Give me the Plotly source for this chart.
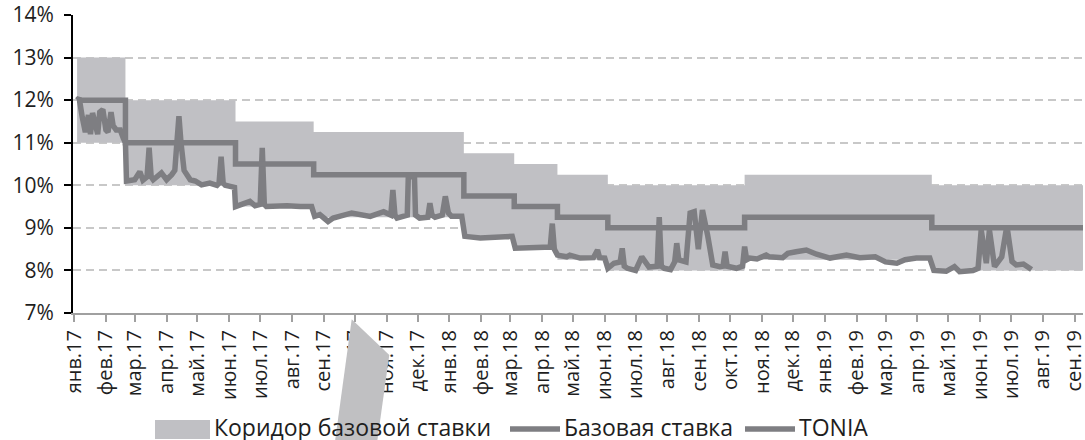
import plotly.graph_objects as go

# ---------------- data ----------------
rate_dates = ["2017-01-04", "2017-02-20", "2017-06-07", "2017-08-22", "2018-01-15",
              "2018-03-05", "2018-04-16", "2018-06-04", "2018-10-15", "2019-04-15",
              "2019-09-09"]
base_rate = [12.0, 11.0, 10.5, 10.25, 9.75, 9.5, 9.25, 9.0, 9.25, 9.0, 9.0]
corridor_low = [11.0, 10.0, 9.5, 9.25, 8.75, 8.5, 8.25, 8.0, 8.25, 8.0, 8.0]
corridor_high = [13.0, 12.0, 11.5, 11.25, 10.75, 10.5, 10.25, 10.0, 10.25, 10.0, 10.0]

tonia_dates = [
    "2017-01-04", "2017-01-06", "2017-01-09", "2017-01-12", "2017-01-15", "2017-01-17",
    "2017-01-19", "2017-01-22", "2017-01-24", "2017-01-26", "2017-01-29", "2017-02-01",
    "2017-02-03", "2017-02-06", "2017-02-08", "2017-02-11", "2017-02-15", "2017-02-18",
    "2017-02-20", "2017-02-21", "2017-03-01", "2017-03-06", "2017-03-09", "2017-03-13",
    "2017-03-15", "2017-03-17", "2017-03-19", "2017-03-27", "2017-04-01", "2017-04-06",
    "2017-04-09", "2017-04-11", "2017-04-13", "2017-04-15", "2017-04-18", "2017-04-24",
    "2017-04-29", "2017-05-05", "2017-05-13", "2017-05-20", "2017-05-22", "2017-05-24",
    "2017-05-26", "2017-05-28", "2017-06-03", "2017-06-06", "2017-06-07", "2017-06-21",
    "2017-06-26", "2017-07-01", "2017-07-03", "2017-07-05", "2017-07-07", "2017-07-27",
    "2017-08-09", "2017-08-20", "2017-08-23", "2017-08-28", "2017-09-05", "2017-09-10",
    "2017-09-28", "2017-10-16", "2017-10-29", "2017-11-05", "2017-11-07", "2017-11-09",
    "2017-11-11", "2017-11-21", "2017-11-22", "2017-11-28", "2017-11-29", "2017-12-03",
    "2017-12-11", "2017-12-13", "2017-12-15", "2017-12-18", "2017-12-25", "2017-12-28",
    "2017-12-31", "2018-01-03", "2018-01-13", "2018-01-16", "2018-01-31", "2018-02-14",
    "2018-03-03", "2018-03-06", "2018-03-30", "2018-04-09", "2018-04-11", "2018-04-13",
    "2018-04-16", "2018-04-25", "2018-04-28", "2018-05-08", "2018-05-21", "2018-05-25",
    "2018-05-27", "2018-06-01", "2018-06-04", "2018-06-10", "2018-06-16", "2018-06-18",
    "2018-06-20", "2018-06-23", "2018-07-01", "2018-07-07", "2018-07-14", "2018-07-22",
    "2018-07-24", "2018-07-26", "2018-07-29", "2018-08-04", "2018-08-08", "2018-08-10",
    "2018-08-12", "2018-08-19", "2018-08-23", "2018-08-27", "2018-08-31", "2018-09-04",
    "2018-09-09", "2018-09-14", "2018-09-21", "2018-09-24", "2018-09-26", "2018-09-28",
    "2018-10-07", "2018-10-13", "2018-10-15", "2018-10-17", "2018-10-20", "2018-10-27",
    "2018-11-05", "2018-11-08", "2018-11-21", "2018-11-26", "2018-12-04", "2018-12-14",
    "2018-12-24", "2019-01-06", "2019-01-22", "2019-02-04", "2019-02-19", "2019-03-01",
    "2019-03-12", "2019-03-20", "2019-03-31", "2019-04-13", "2019-04-17", "2019-04-23",
    "2019-04-29", "2019-05-07", "2019-05-12", "2019-05-25", "2019-05-30", "2019-06-02",
    "2019-06-07", "2019-06-10", "2019-06-15", "2019-06-22", "2019-06-27", "2019-07-02",
    "2019-07-06", "2019-07-13", "2019-07-21",
]
tonia_values = [
    12.0, 12.05, 11.6, 11.25, 11.65, 11.2,
    11.7, 11.45, 11.2, 11.72, 11.78, 11.3,
    11.25, 11.72, 11.4, 11.3, 11.3, 11.1,
    11.0, 10.1, 10.13, 10.32, 10.12, 10.2,
    10.88, 10.2, 10.13, 10.29, 10.13, 10.25,
    10.35, 11.0, 11.62, 11.0, 10.35, 10.13,
    10.1, 10.01, 10.05, 10.0, 10.05, 10.67,
    10.05, 10.0, 9.97, 9.95, 9.5, 9.62,
    9.52, 9.55, 10.88, 9.55, 9.5, 9.52,
    9.5, 9.5, 9.27, 9.31, 9.15, 9.23,
    9.35, 9.27, 9.38, 9.3, 9.89, 9.3,
    9.23, 9.3, 10.2, 10.2, 9.3, 9.23,
    9.25, 9.58, 9.3, 9.25, 9.3, 9.74,
    9.35, 9.27, 9.27, 8.8, 8.76, 8.78,
    8.8, 8.52, 8.55, 8.55, 9.1, 8.5,
    8.36, 8.32, 8.36, 8.29, 8.3, 8.48,
    8.3, 8.29, 8.05, 8.17, 8.2, 8.52,
    8.1, 8.05, 8.0, 8.32, 8.08, 8.1,
    9.25, 8.1, 8.05, 8.02, 8.2, 8.64,
    8.25, 8.2, 9.35, 9.38, 8.5, 9.42,
    8.83, 8.13, 8.09, 8.1, 8.44, 8.1,
    8.05, 8.1, 8.56, 8.25, 8.29, 8.27,
    8.36, 8.32, 8.3, 8.4, 8.44, 8.48,
    8.38, 8.29, 8.36, 8.3, 8.32, 8.2,
    8.17, 8.25, 8.29, 8.29, 8.0, 8.0,
    7.98, 8.09, 7.97, 8.0, 8.05, 8.95,
    8.17, 8.95, 8.09, 8.32, 9.05, 8.21,
    8.13, 8.15, 8.02,
]

tick_dates = [
    "2017-01-01", "2017-02-01", "2017-03-01", "2017-04-01", "2017-05-01", "2017-06-01",
    "2017-07-01", "2017-08-01", "2017-09-01", "2017-10-01", "2017-11-01", "2017-12-01",
    "2018-01-01", "2018-02-01", "2018-03-01", "2018-04-01", "2018-05-01", "2018-06-01",
    "2018-07-01", "2018-08-01", "2018-09-01", "2018-10-01", "2018-11-01", "2018-12-01",
    "2019-01-01", "2019-02-01", "2019-03-01", "2019-04-01", "2019-05-01", "2019-06-01",
    "2019-07-01", "2019-08-01", "2019-09-01",
]
tick_labels = [
    "янв.17", "фев.17", "мар.17", "апр.17", "май.17", "июн.17", "июл.17", "авг.17",
    "сен.17", "окт.17", "ноя.17", "дек.17", "янв.18", "фев.18", "мар.18", "апр.18",
    "май.18", "июн.18", "июл.18", "авг.18", "сен.18", "окт.18", "ноя.18", "дек.18",
    "янв.19", "фев.19", "мар.19", "апр.19", "май.19", "июн.19", "июл.19", "авг.19",
    "сен.19",
]
y_ticks = [7, 8, 9, 10, 11, 12, 13, 14]
y_labels = ["7%", "8%", "9%", "10%", "11%", "12%", "13%", "14%"]

legend_names = ["Коридор базовой ставки", "Базовая ставка", "TONIA"]

# ---------------- style ----------------
FILL = "rgb(192,192,196)"
LINE = "rgb(126,126,130)"
TEXT = "#1e1e1e"
FONT = "Open Sans"
LW = 5.5

fig = go.Figure()
fig.add_trace(go.Scatter(x=rate_dates, y=corridor_low, mode="lines", line_shape="hv",
                         line=dict(width=0, color=FILL), showlegend=False, hoverinfo="skip"))
fig.add_trace(go.Scatter(x=rate_dates, y=corridor_high, mode="lines", line_shape="hv",
                         line=dict(width=0, color=FILL), fill="tonexty", fillcolor=FILL,
                         name=legend_names[0], showlegend=False))
fig.add_trace(go.Scatter(x=tonia_dates, y=tonia_values, mode="lines",
                         line=dict(width=LW, color=LINE), name=legend_names[2],
                         showlegend=False))
fig.add_trace(go.Scatter(x=rate_dates, y=base_rate, mode="lines", line_shape="hv",
                         line=dict(width=LW, color=LINE), name=legend_names[1],
                         showlegend=False))

W, H, L, R, T, B = 1085, 440, 73, 2, 15, 127
PW = W - L - R
PH = H - T - B


def px(xp):
    return (xp - L) / PW


def py(yp):
    return (T + PH - yp) / PH


shapes = [
    # legend swatches
    dict(type="rect", xref="paper", yref="paper", x0=px(155), x1=px(210), y0=py(439), y1=py(420),
         fillcolor=FILL, line=dict(width=0)),
    dict(type="line", xref="paper", yref="paper", x0=px(510), x1=px(560), y0=py(429), y1=py(429),
         line=dict(width=LW, color=LINE)),
    dict(type="line", xref="paper", yref="paper", x0=px(745), x1=px(795), y0=py(429), y1=py(429),
         line=dict(width=LW, color=LINE)),
    # grey overlay polygon seen over the axis labels
    dict(type="path", xref="paper", yref="paper", layer="above",
         path=f"M {px(351.7)},{py(319.3)} L {px(389.3)},{py(355)} L {px(376.7)},{py(445)} "
              f"L {px(334.5)},{py(445)} Z",
         fillcolor="rgb(192,192,194)", line=dict(width=0)),
]

LEG_FONT = dict(size=23, color=TEXT, family=FONT)
annotations = [
    dict(xref="paper", yref="paper", x=px(212), y=py(427), text=legend_names[0],
         showarrow=False, xanchor="left", yanchor="middle", font=LEG_FONT),
    dict(xref="paper", yref="paper", x=px(562), y=py(427), text=legend_names[1],
         showarrow=False, xanchor="left", yanchor="middle", font=LEG_FONT),
    dict(xref="paper", yref="paper", x=px(797), y=py(427), text=legend_names[2],
         showarrow=False, xanchor="left", yanchor="middle", font=LEG_FONT),
]

fig.update_layout(
    width=W, height=H,
    margin=dict(l=L, r=R, t=T, b=B, pad=0, autoexpand=False),
    paper_bgcolor="white", plot_bgcolor="white",
    font=dict(family=FONT, color=TEXT),
    showlegend=False,
    shapes=shapes,
    annotations=annotations,
)
fig.update_xaxes(
    type="date", range=["2016-12-31", "2019-09-09"], automargin=False,
    tickmode="array", tickvals=tick_dates, ticktext=tick_labels, tickangle=-90,
    tickfont=dict(size=20, color=TEXT, family=FONT), ticklabeloverflow="allow",
    showgrid=False, zeroline=False,
    showline=True, linecolor="rgb(160,160,160)", linewidth=2,
    ticks="outside", ticklen=7, tickwidth=2, tickcolor="rgb(160,160,160)",
)
fig.update_yaxes(
    range=[7, 14], automargin=False, tickmode="array", tickvals=y_ticks, ticktext=y_labels,
    tickfont=dict(size=21, color=TEXT, family=FONT), ticklabelstandoff=6,
    ticklabeloverflow="allow",
    showgrid=True, gridcolor="rgb(200,200,200)", gridwidth=2, griddash="8px,5px",
    zeroline=False,
    showline=True, linecolor="black", linewidth=2,
    ticks="outside", ticklen=7, tickwidth=2, tickcolor="black",
)

fig.write_html(
    "out.html",
    config={"displayModeBar": False, "staticPlot": True},
    post_script="document.body.style.margin='0';document.body.style.padding='0';"
                "document.documentElement.style.overflow='hidden';",
)
